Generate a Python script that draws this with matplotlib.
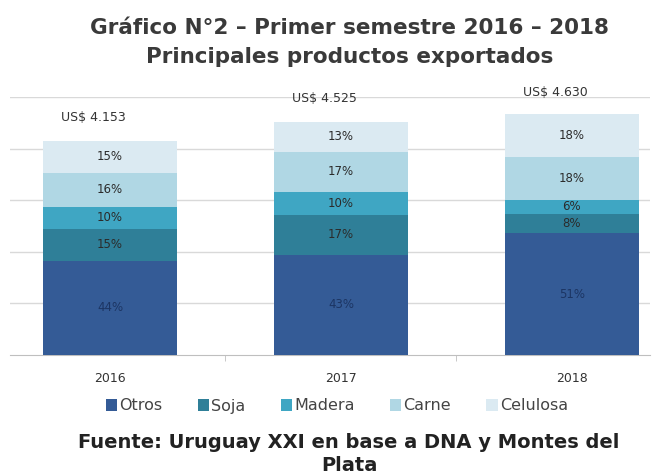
import matplotlib
matplotlib.use("Agg")
import matplotlib.pyplot as plt
import numpy as np

years = ["2016", "2017", "2018"]
totals = [4153, 4525, 4630]
total_labels = ["US$ 4.153", "US$ 4.525", "US$ 4.630"]
products = ["Otros", "Soja", "Madera", "Carne", "Celulosa"]
otros = [44, 43, 51]
soja = [15, 17, 8]
madera = [10, 10, 6]
carne = [16, 17, 18]
celulosa = [15, 13, 18]
shares = [otros, soja, madera, carne, celulosa]
colors = ["#345b96", "#2f7f98", "#3fa6c3", "#b0d7e4", "#dbeaf2"]
label_colors = ["#1c3563", "#2b2b2b", "#2b2b2b", "#2b2b2b", "#2b2b2b"]

plt.rcParams['font.family'] = ['DejaVu Sans']

fig = plt.figure(figsize=(6.53, 4.73), dpi=100)
ax = fig.add_axes([10/653, (473-355)/473, 640/653, 258/473])

x = np.arange(len(years))
width = 0.58
bottom = np.zeros(len(years))
for name, vals, c, lc in zip(products, shares, colors, label_colors):
    vals = np.array(vals, dtype=float)
    h = vals / 100.0 * np.array(totals)
    ax.bar(x, h, width, bottom=bottom, color=c, label=name, zorder=3)
    for xi, b, hi, v in zip(x, bottom, h, vals):
        ax.text(xi, b + hi / 2, f"{int(v)}%", ha="center", va="center",
                fontsize=8.5, color=lc, zorder=4)
    bottom += h

for xi, t, lab in zip(x, totals, total_labels):
    ax.text(xi - 0.07, t + 450, lab, ha="center", va="center", fontsize=9,
            color="#333333", zorder=4, clip_on=False)

ax.set_ylim(0, 5000)
ax.set_xlim(-0.433, 2.338)
ax.set_yticks([1000, 2000, 3000, 4000, 5000])
ax.yaxis.grid(True, color="#d9d9d9", linewidth=1, zorder=0)
ax.set_yticklabels([])
ax.tick_params(axis="y", length=0)
ax.set_xticks(x)
ax.set_xticklabels(years, fontsize=9, color="#333333")
ax.tick_params(axis="x", length=0, pad=12)
ax.set_xticks([0.5, 1.5], minor=True)
ax.tick_params(axis="x", which="minor", length=4, color="#bfbfbf")
for s in ["top", "right", "left"]:
    ax.spines[s].set_visible(False)
ax.spines["bottom"].set_color("#bfbfbf")

fig.text(350/653, 1 - 28/473, "Gráfico N°2 – Primer semestre 2016 – 2018", ha="center",
         va="center", fontsize=15.5, fontweight="bold", color="#3a3a3a")
fig.text(350/653, 1 - 57/473, "Principales productos exportados", ha="center",
         va="center", fontsize=15.5, fontweight="bold", color="#3a3a3a")

leg = fig.legend(loc="center", bbox_to_anchor=(337/653, 1 - 406/473), ncol=5,
                 frameon=False, fontsize=11.5, handlelength=0.7, handleheight=0.7,
                 handletextpad=0.15, columnspacing=2.2)
for t in leg.get_texts():
    t.set_color("#444444")

fig.text(349/653, 1 - 442/473, "Fuente: Uruguay XXI en base a DNA y Montes del",
         ha="center", va="center", fontsize=14, fontweight="bold", color="#222222")
fig.text(349/653, 1 - 465/473, "Plata", ha="center", va="center", fontsize=14,
         fontweight="bold", color="#222222")

fig.savefig("out.png", dpi=100)
